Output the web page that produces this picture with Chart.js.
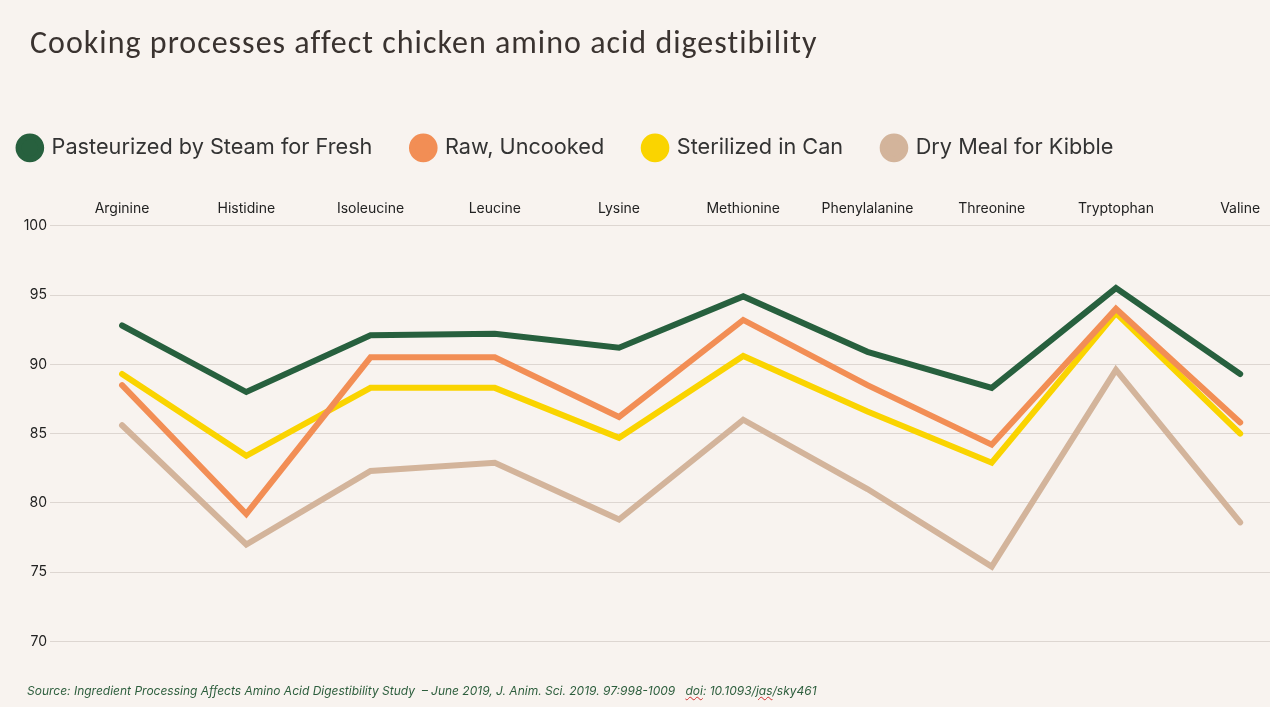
<!DOCTYPE html>
<html>
<head>
<meta charset="utf-8">
<script src="https://cdn.jsdelivr.net/npm/chart.js@4.4.1/dist/chart.umd.min.js"></script>
<style>
  html, body { margin: 0; padding: 0; background: #f8f3ef; overflow: hidden; }
  #wrap { position: relative; width: 1270px; height: 707px; }
  #chart { position: absolute; left: 0; top: 0; }
  #title {
    position: absolute; left: 30px; top: 23px; white-space: nowrap;
    font-family: Carlito, "Liberation Sans Narrow", "Open Sans", sans-serif;
    font-size: 32px; color: #3a3330; letter-spacing: 1px;
  }
  #source {
    position: absolute; left: 27px; top: 683px; white-space: nowrap;
    font-family: Inter, "Open Sans", sans-serif; font-style: italic;
    font-size: 12px; color: #2d5e3d;
  }
  .sq { text-decoration: underline wavy #d03030; text-decoration-thickness: 1px; }
</style>
</head>
<body>
<div id="wrap">
  <canvas id="chart" width="1270" height="707"></canvas>
  <div id="title">Cooking processes affect chicken amino acid digestibility</div>
  <div id="source">Source: Ingredient Processing Affects Amino Acid Digestibility Study &nbsp;– June 2019, J. Anim. Sci. 2019. 97:998-1009 &nbsp;&nbsp;<span class="sq">doi</span>: 10.1093/<span class="sq">jas</span>/sky461</div>
</div>
<script>
// Amino acids (x categories)
const aminoAcids = ['Arginine', 'Histidine', 'Isoleucine', 'Leucine', 'Lysine',
  'Methionine', 'Phenylalanine', 'Threonine', 'Tryptophan', 'Valine'];

// Digestibility (%) per cooking process
const pasteurized = [92.8, 88.0, 92.1, 92.2, 91.2, 94.9, 90.9, 88.3, 95.5, 89.3];
const raw = [88.5, 79.2, 90.5, 90.5, 86.2, 93.2, 88.5, 84.2, 94.0, 85.8];
const sterilized = [89.3, 83.4, 88.3, 88.3, 84.7, 90.6, 86.6, 82.9, 93.7, 85.0];
const dryMeal = [85.6, 77.0, 82.3, 82.9, 78.8, 86.0, 81.0, 75.4, 89.6, 78.6];

const yTicks = [70, 75, 80, 85, 90, 95, 100];

const FONT = 'Inter, "Open Sans", sans-serif';

function toPoints(values) {
  return values.map((v, i) => ({x: i, y: v}));
}

function makeLine(label, values, color) {
  return {
    label: label,
    data: toPoints(values),
    borderColor: color,
    backgroundColor: color,
    borderWidth: 6,
    pointRadius: 0,
    pointHoverRadius: 0,
    tension: 0,
    borderCapStyle: 'round',
    borderJoinStyle: 'miter',
    fill: false
  };
}

// legend starts further left than Chart.js would put it with this item padding
const legendShift = {
  id: 'legendShift',
  afterLayout(chart) {
    chart.legend.left = 19 - chart.options.plugins.legend.labels.padding;
  }
};

new Chart(document.getElementById('chart'), {
  type: 'line',
  data: {
    datasets: [
      makeLine('Pasteurized by Steam for Fresh', pasteurized, '#27603e'),
      makeLine('Raw, Uncooked', raw, '#f28e55'),
      makeLine('Sterilized in Can', sterilized, '#fad400'),
      makeLine('Dry Meal for Kibble', dryMeal, '#d3b49b')
    ]
  },
  options: {
    responsive: false,
    animation: false,
    events: [],
    layout: {
      padding: {top: 97, left: 0, right: 0, bottom: 65.5}
    },
    plugins: {
      tooltip: {enabled: false},
      title: {display: false},
      legend: {
        display: true,
        position: 'top',
        align: 'start',
        labels: {
          usePointStyle: true,
          pointStyle: 'circle',
          boxWidth: 28,
          boxHeight: 16,
          padding: 40,
          color: '#333333',
          font: {family: FONT, size: 21.7}
        }
      }
    },
    scales: {
      x: {
        type: 'linear',
        position: 'top',
        min: -0.58,
        max: 9.24,
        grid: {display: false, drawTicks: false},
        border: {display: false},
        afterFit(scale) { scale.height = 57; },
        afterBuildTicks(scale) {
          scale.ticks = aminoAcids.map((name, i) => ({value: i}));
        },
        ticks: {
          autoSkip: false,
          maxRotation: 0,
          padding: 9,
          color: '#222222',
          font: {family: FONT, size: 14},
          callback: (value) => aminoAcids[value] || ''
        }
      },
      y: {
        min: 70,
        max: 100,
        afterFit(scale) { scale.width = 50; },
        afterBuildTicks(scale) {
          scale.ticks = yTicks.map(v => ({value: v}));
        },
        grid: {color: '#ddd6d1', lineWidth: 1, drawTicks: false},
        border: {display: false},
        ticks: {
          padding: 3,
          color: '#222222',
          font: {family: FONT, size: 14}
        }
      }
    }
  },
  plugins: [legendShift]
});
</script>
</body>
</html>
